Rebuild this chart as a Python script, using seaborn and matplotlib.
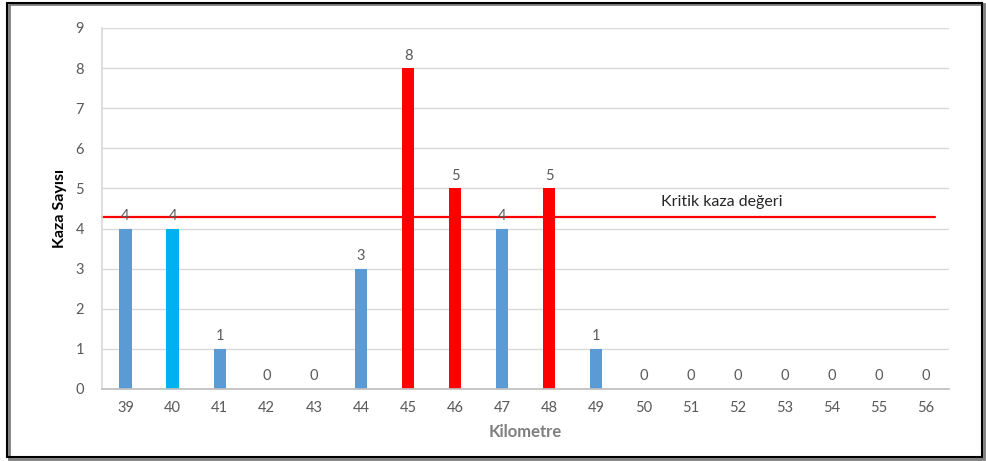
import matplotlib
matplotlib.use("Agg")
import matplotlib.pyplot as plt
import seaborn as sns
import pandas as pd
from matplotlib.patches import Rectangle

# data
kilometres = ["39", "40", "41", "42", "43", "44", "45", "46", "47",
              "48", "49", "50", "51", "52", "53", "54", "55", "56"]
accidents = [4, 4, 1, 0, 0, 3, 8, 5, 4, 5, 1, 0, 0, 0, 0, 0, 0, 0]
bar_colors = ["#5B9BD5", "#00B0F0", "#5B9BD5", "#5B9BD5", "#5B9BD5", "#5B9BD5",
              "#FF0000", "#FF0000", "#5B9BD5", "#FF0000", "#5B9BD5", "#5B9BD5",
              "#5B9BD5", "#5B9BD5", "#5B9BD5", "#5B9BD5", "#5B9BD5", "#5B9BD5"]
critical_value = 4.3
critical_label = "Kritik kaza değeri"

sns.set_theme(style="white")
plt.rcParams['font.family'] = ['Lato', 'DejaVu Sans']

df = pd.DataFrame({"km": kilometres, "count": accidents})

fig = plt.figure(figsize=(9.87, 4.61), dpi=100)
ax = fig.add_axes([0.1033, 0.1562, 0.8587, 0.7831])

sns.barplot(data=df, x="km", y="count", hue="km", palette=bar_colors,
            width=0.26, legend=False, saturation=1, linewidth=0, ax=ax)

grey = "#595959"
ax.set_ylim(0, 9)
ax.set_xlim(-0.5, len(kilometres) - 0.5)
ax.set_yticks(range(0, 10))
ax.yaxis.grid(True, color="#D9D9D9", linewidth=1)
ax.set_axisbelow(True)
for side in ["top", "right"]:
    ax.spines[side].set_visible(False)
ax.spines["left"].set_color("#D9D9D9")
ax.spines["bottom"].set_color("#BFBFBF")
ax.tick_params(axis="both", colors=grey, labelsize=10.5, length=0, pad=9)
ax.tick_params(axis="y", length=5, color="#D9D9D9", pad=8)

ax.set_xlabel("Kilometre", fontsize=12, fontweight="bold", color="#7F7F7F", labelpad=6)
ax.set_ylabel("Kaza Sayısı", fontsize=11.5, fontweight="bold", color="black", labelpad=6)

# value labels above bars
for i, v in enumerate(accidents):
    ax.annotate(str(v), (i, v), xytext=(0, 4), textcoords="offset points",
                ha="center", va="bottom", fontsize=10.5, color=grey)

# critical accident line
ax.plot([-0.5, 17.19], [critical_value, critical_value], color="#FF0000",
        linewidth=1.6, clip_on=False)
ax.text(12.66, critical_value + 0.37, critical_label, ha="center", va="center",
        fontsize=11.5, color="#262626")

# frame around the whole picture with a small shadow
fig.patches.append(Rectangle((9 / 987, 1 - 459 / 461), 975 / 987, 455 / 461,
                             transform=fig.transFigure, fill=False,
                             edgecolor="#7F7F7F", linewidth=2.0))
fig.patches.append(Rectangle((7 / 987, 1 - 457 / 461), 975 / 987, 454 / 461,
                             transform=fig.transFigure, fill=False,
                             edgecolor="black", linewidth=1.5))

fig.savefig("out.png", dpi=100)
